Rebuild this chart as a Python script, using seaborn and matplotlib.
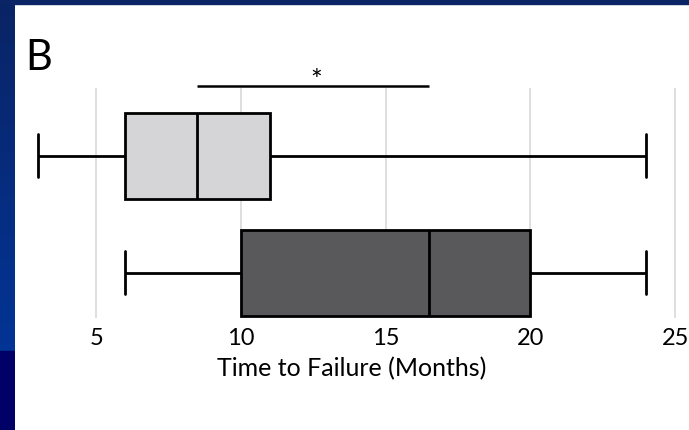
import numpy as np
import pandas as pd
import matplotlib
matplotlib.use('Agg')
import matplotlib.pyplot as plt
import seaborn as sns
from matplotlib.patches import Rectangle

# five-number summaries (min, Q1, median, Q3, max)
group_names = ['Group A', 'Group B']
group_a = [3, 6, 8.5, 11, 24]
group_b = [6, 10, 16.5, 20, 24]
box_colors = ['#d5d5d7', '#59595b']
x_ticks = [5, 10, 15, 20, 25]
x_label = 'Time to Failure (Months)'
panel_label = 'B'
sig_text = '*'

sns.set_theme(style='whitegrid')
plt.rcParams['font.family'] = ['Lato', 'DejaVu Sans']
plt.rcParams['text.color'] = 'black'
plt.rcParams['axes.labelcolor'] = 'black'
plt.rcParams['xtick.color'] = 'black'

df = pd.DataFrame({
    'group': [group_names[0]] * len(group_a) + [group_names[1]] * len(group_b),
    'months': group_a + group_b,
})

fig = plt.figure(figsize=(6.89, 4.30), dpi=100, facecolor='white')

# slide background strips
bg = fig.add_axes([0, 0, 15 / 689, 1])
grad = np.linspace(0, 1, 256).reshape(-1, 1)
cmap = matplotlib.colors.LinearSegmentedColormap.from_list('slide', ['#0a2465', '#0038a0'])
bg.imshow(grad, aspect='auto', cmap=cmap, extent=[0, 1, 0, 1], origin='upper')
bg.add_patch(Rectangle((0, 0), 1, 79 / 430, color='#000066'))
bg.set_xlim(0, 1)
bg.set_ylim(0, 1)
bg.axis('off')
fig.add_artist(Rectangle((0, 1 - 4 / 430), 1, 4 / 430, color='#0a2465',
                         transform=fig.transFigure))

ax = fig.add_axes([15 / 689, 1 - 318 / 430, 1 - 15 / 689, (318 - 88) / 430])
ax.set_facecolor('white')

sns.boxplot(data=df, x='months', y='group', hue='group', palette=box_colors,
            order=group_names, whis=(0, 100), width=0.735, linewidth=2,
            linecolor='black', legend=False, ax=ax)

ax.set_xlim(2.2, 25.48)
ax.set_ylim(1.385, -0.58)
ax.set_xticks(x_ticks)
ax.set_xticklabels([str(t) for t in x_ticks], fontsize=17)
ax.set_yticks([])
ax.set_ylabel('')
ax.set_xlabel(x_label, fontsize=18, labelpad=6)
ax.tick_params(axis='x', length=0, pad=7)
ax.grid(axis='x', color='#dcdcdc', linewidth=1.3)
ax.grid(axis='y', visible=False)
for s in ax.spines.values():
    s.set_visible(False)

# significance bar between medians
ax.plot([group_a[2], group_b[2]], [-0.597, -0.597], color='black', lw=1.8,
        clip_on=False, solid_capstyle='butt')
ax.text((group_a[2] + group_b[2]) / 2 + 0.1, -0.56, sig_text, ha='center',
        va='baseline', fontsize=20)

fig.text(25 / 689, 1 - 70 / 430, panel_label, fontsize=30, va='baseline', ha='left')

fig.savefig('out.png', dpi=100)
